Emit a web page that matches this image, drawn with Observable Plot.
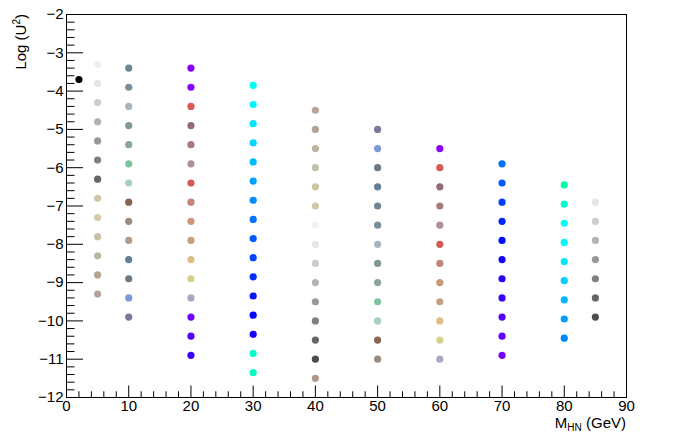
<!DOCTYPE html>
<html><head><meta charset="utf-8">
<script src="https://cdn.jsdelivr.net/npm/d3@7"></script>
<script src="https://cdn.jsdelivr.net/npm/@observablehq/plot@0.6"></script>
<style>html,body{margin:0;padding:0;background:#fff} svg{display:block}</style>
</head><body><div id="chart"></div>
<script>
// ---- data ----
const masses = [2, 5, 10, 20, 30, 40, 50, 60, 70, 80, 85];

const col2  = [-3.7];
const col2c = ["#000000"];

const col5  = [-3.3,-3.8,-4.3,-4.8,-5.3,-5.8,-6.3,-6.8,-7.3,-7.8,-8.3,-8.8,-9.3];
const col5c = ["#efefef","#e5e5e5","#cccccc","#b2b2b2","#999999","#7f7f7f","#666666","#cfc6a5","#d4cca8","#c8c2a6","#bdb59f","#b5a493","#b8a19b"];

const col10  = [-3.4,-3.9,-4.4,-4.9,-5.4,-5.9,-6.4,-6.9,-7.4,-7.9,-8.4,-8.9,-9.4,-9.9];
const col10c = ["#6f8690","#788e98","#a8b6c2","#7e9a88","#88a69e","#7cc39f","#a8cfc4","#8b6553","#9b8b7f","#b09b8e","#637f97","#6d7985","#7c9ad8","#7c7899"];

const col20  = [-3.4,-3.9,-4.4,-4.9,-5.4,-5.9,-6.4,-6.9,-7.4,-7.9,-8.4,-8.9,-9.4,-9.9,-10.4,-10.9];
const col20c = ["#8800ff","#8800ff","#d85a55","#956a72","#a87a7a","#b09296","#d45a58","#c4847a","#cc9878","#c4a07f","#e0bc88","#d6d088","#aaa8c0","#6a00ff","#5200ff","#3a00ff"];

const col30  = [-3.85,-4.35,-4.85,-5.35,-5.85,-6.35,-6.85,-7.35,-7.85,-8.35,-8.85,-9.35,-9.85,-10.35,-10.85,-11.35];
const col30c = ["#00ffee","#00f6ff","#00e8ff","#00d4ff","#00bcff","#00a4ff","#008cff","#0074ff","#005cff","#0044ff","#002cff","#0014ff","#0000ff","#1400ff","#00ffcc","#00ffc0"];

const col40  = [-4.5,-5.0,-5.5,-6.0,-6.5,-7.0,-7.5,-8.0,-8.5,-9.0,-9.5,-10.0,-10.5,-11.0,-11.5];
const col40c = ["#b9a29a","#b3a594","#bcb5a0","#c6c1a6","#ccc3a0","#cfc7a5","#f2f2f2","#e6e6e6","#cccccc","#b3b3b3","#999999","#808080","#666666","#4d4d4d","#b09a8c"];

const col50  = [-5.0,-5.5,-6.0,-6.5,-7.0,-7.5,-8.0,-8.5,-9.0,-9.5,-10.0,-10.5,-11.0];
const col50c = ["#7c7899","#7c9ad8","#6d7985","#637f97","#6f8690","#788e98","#a8b6c2","#7e9a88","#88a69e","#7cc39f","#a8cfc4","#8b6553","#9b8b7f"];

const col60  = [-5.5,-6.0,-6.5,-7.0,-7.5,-8.0,-8.5,-9.0,-9.5,-10.0,-10.5,-11.0];
const col60c = ["#8800ff","#d85a55","#956a72","#a87a7a","#b09296","#d45a58","#c4847a","#cc9878","#c4a07f","#e0bc88","#d6d088","#aaa8c0"];

const col70  = [-5.9,-6.4,-6.9,-7.4,-7.9,-8.4,-8.9,-9.4,-9.9,-10.4,-10.9];
const col70c = ["#0070ff","#0058ff","#0040ff","#0028ff","#0010ff","#1400ff","#2800ff","#3c00ff","#5000ff","#6400ff","#7800ff"];

const col80  = [-6.45,-6.95,-7.45,-7.95,-8.45,-8.95,-9.45,-9.95,-10.45];
const col80c = ["#00ffaa","#00ffcc","#00fff0","#00f8ff","#00e6ff","#00d0ff","#00b8ff","#00a0ff","#0088ff"];

const col85  = [-6.9,-7.4,-7.9,-8.4,-8.9,-9.4,-9.9];
const col85c = ["#e6e6e6","#cccccc","#b3b3b3","#999999","#808080","#666666","#4d4d4d"];

const xTicks = [0,10,20,30,40,50,60,70,80,90];
const yTicks = [-12,-11,-10,-9,-8,-7,-6,-5,-4,-3,-2];

// ---- build table ----
const columns = [
  [col2, col2c], [col5, col5c], [col10, col10c], [col20, col20c], [col30, col30c],
  [col40, col40c], [col50, col50c], [col60, col60c], [col70, col70c], [col80, col80c], [col85, col85c]
];
const rows = [];
columns.forEach(([vals, cols], i) => vals.forEach((v, j) => rows.push({m: masses[i], v, c: cols[j]})));

const xMinor = d3.range(0, 90.001, 2).filter(d => !xTicks.includes(d));
const yMinor = d3.range(-12, -1.999, 0.2).map(d => +d.toFixed(1)).filter(d => !yTicks.includes(d));

const FONT = "'Liberation Sans', Arial, Helvetica, sans-serif";

const chart = Plot.plot({
  width: 683, height: 437,
  marginLeft: 66, marginRight: 57, marginTop: 14, marginBottom: 40,
  style: {fontFamily: FONT, fontSize: "15px", background: "white", color: "black"},
  x: {domain: [0, 90]},
  y: {domain: [-12, -2]},
  marks: [
    Plot.dot(rows, {x: "m", y: "v", fill: "c", r: 3.6}),
    Plot.axisX({ticks: xTicks, tickSize: 0, tickPadding: 3, label: null, fontSize: 15}),
    Plot.axisX({ticks: xTicks, tickSize: -11.5, text: null, label: null}),
    Plot.axisX({ticks: xMinor, tickSize: -5.7, text: null, label: null}),
    Plot.axisY({ticks: yTicks, tickSize: 0, tickPadding: 3, label: null, fontSize: 15}),
    Plot.axisY({ticks: yTicks, tickSize: -17, text: null, label: null}),
    Plot.axisY({ticks: yMinor, tickSize: -8.5, text: null, label: null}),
    Plot.frame({stroke: "black", strokeWidth: 1})
  ]
});

const svg = d3.select(chart);
const xs = chart.scale("x"), ys = chart.scale("y");

// x-axis title: M_HN (GeV)
const xt = svg.append("text")
  .attr("x", xs.apply(90)).attr("y", 428)
  .attr("text-anchor", "end")
  .attr("font-family", FONT).attr("font-size", 15).attr("fill", "black");
xt.append("tspan").text("M");
xt.append("tspan").attr("font-size", 10).attr("dy", 3).text("HN");
xt.append("tspan").attr("dy", -3).text(" (GeV)");

// y-axis title: Log (U^2)
const yt = svg.append("text")
  .attr("transform", `translate(26,${ys.apply(-2)}) rotate(-90)`)
  .attr("text-anchor", "end")
  .attr("font-family", FONT).attr("font-size", 15).attr("fill", "black");
yt.append("tspan").text("Log (U");
yt.append("tspan").attr("font-size", 10).attr("dy", -6).text("2");
yt.append("tspan").attr("dy", 6).text(")");

document.getElementById("chart").append(chart);
</script>
</body></html>
